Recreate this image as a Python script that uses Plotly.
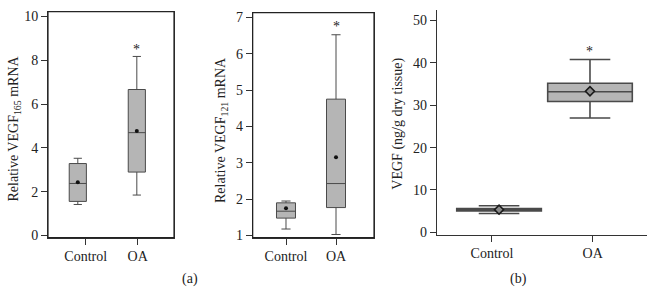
import plotly.graph_objects as go

# ---------------- data ----------------
groups = ["Control", "OA"]

# (a) left: Relative VEGF165 mRNA
v165_lower = [1.42, 1.85]
v165_q1 = [1.56, 2.90]
v165_median = [2.38, 4.70]
v165_q3 = [3.29, 6.67]
v165_upper = [3.53, 8.18]
v165_mean = [2.43, 4.78]

# (a) right: Relative VEGF121 mRNA
v121_lower = [1.18, 1.03]
v121_q1 = [1.48, 1.77]
v121_median = [1.67, 2.43]
v121_q3 = [1.90, 4.75]
v121_upper = [1.95, 6.52]
v121_mean = [1.75, 3.15]

# (b): VEGF protein (ng/g dry tissue)
prot_lower = [4.46, 27.0]
prot_q1 = [5.05, 30.9]
prot_median = [5.35, 33.2]
prot_q3 = [5.62, 35.2]
prot_upper = [6.29, 40.8]
prot_mean = [5.35, 33.3]

y165_ticks = [0, 2, 4, 6, 8, 10]
y121_ticks = [1, 2, 3, 4, 5, 6, 7]
yprot_ticks = [0, 10, 20, 30, 40, 50]

# ---------------- styling / layout helpers ----------------
W, H = 656, 299
FONT = "Liberation Serif"
BOX_FILL = "#b5b5b5"
BOX_LINE = "#4a4a4a"
AX = "#333333"
TXT = "#222222"


def px_x(p):
    return p / W


def px_y(p):
    return 1 - p / H


X1_RANGE = [0.275, 2.698]
Y1_RANGE = [-0.089, 10.222]
X2_RANGE = [0.334, 2.76]
Y2_RANGE = [0.9465, 7.126]
X3_RANGE = [0.451, 2.539]
Y3_RANGE = [-0.53, 52.46]

fig = go.Figure()

panels = [
    dict(xa="x", ya="y", lower=v165_lower, q1=v165_q1, med=v165_median, q3=v165_q3,
         upper=v165_upper, mean=v165_mean, shift=[-0.152, -0.017], width=0.33,
         lw=1.0, mstyle="dot", star=8.5),
    dict(xa="x2", ya="y2", lower=v121_lower, q1=v121_q1, med=v121_median, q3=v121_q3,
         upper=v121_upper, mean=v121_mean, shift=[0.0, 0.0], width=0.38,
         lw=1.0, mstyle="dot", star=6.74),
    dict(xa="x3", ya="y3", lower=prot_lower, q1=prot_q1, med=prot_median, q3=prot_q3,
         upper=prot_upper, mean=prot_mean, shift=[0.07, -0.027], width=0.84,
         lw=1.6, mstyle="big", star=42.8),
]

for p in panels:
    for i, g in enumerate(groups):
        pos = i + 1 + p["shift"][i]
        fig.add_trace(go.Box(
            x=[pos], q1=[p["q1"][i]], median=[p["med"][i]], q3=[p["q3"][i]],
            lowerfence=[p["lower"][i]], upperfence=[p["upper"][i]],
            width=p["width"], whiskerwidth=0.48,
            fillcolor=BOX_FILL, line=dict(color=BOX_LINE, width=p["lw"]),
            boxpoints=False, name=g, showlegend=False,
            xaxis=p["xa"], yaxis=p["ya"],
        ))
        if p["mstyle"] == "dot":
            marker = dict(symbol="circle", size=4, color="#111111")
        else:
            marker = dict(symbol="diamond", size=7, color="#8a8a8a",
                          line=dict(color="#1a1a1a", width=1.6))
        fig.add_trace(go.Scatter(
            x=[pos], y=[p["mean"][i]], mode="markers", marker=marker,
            showlegend=False, xaxis=p["xa"], yaxis=p["ya"],
        ))
    # asterisk above OA
    fig.add_annotation(
        x=2 + p["shift"][1], y=p["star"], xref=p["xa"], yref=p["ya"],
        text="*", showarrow=False, xanchor="center", yanchor="middle",
        font=dict(family=FONT, size=14, color=TXT),
    )

common_x = dict(tickvals=[1, 2], ticktext=groups, ticks="outside", ticklen=6,
                tickcolor=AX, showline=True, linecolor=AX, linewidth=1,
                showgrid=False, zeroline=False,
                tickfont=dict(family=FONT, size=14, color=TXT))
common_y = dict(ticks="outside", ticklen=6, tickcolor=AX, showline=True,
                linecolor=AX, linewidth=1, showgrid=False, zeroline=False,
                tickfont=dict(family=FONT, size=14, color=TXT))

fig.update_layout(
    width=W, height=H,
    margin=dict(l=0, r=0, t=0, b=0),
    plot_bgcolor="white",
    font=dict(family=FONT, color=TXT),
    xaxis=dict(domain=[px_x(48), px_x(174)], range=X1_RANGE, mirror=True,
               anchor="y", **common_x),
    yaxis=dict(domain=[px_y(242), px_y(10)], range=Y1_RANGE, mirror=True,
               tickvals=y165_ticks, anchor="x", **common_y),
    xaxis2=dict(domain=[px_x(252.7), px_x(374)], range=X2_RANGE, mirror=True,
                anchor="y2", **common_x),
    yaxis2=dict(domain=[px_y(242), px_y(11)], range=Y2_RANGE, mirror=True,
                tickvals=y121_ticks, anchor="x2", **common_y),
    xaxis3=dict(domain=[px_x(436.7), px_x(647)], range=X3_RANGE,
                anchor="y3", **common_x),
    yaxis3=dict(domain=[px_y(239), px_y(8.3)], range=Y3_RANGE,
                tickvals=yprot_ticks, anchor="x3", **common_y),
)

# frame rectangles of the two (a) panels
for (l, r, t, b) in [(48, 174, 10, 242), (252.7, 374, 11, 242)]:
    fig.add_shape(type="rect", xref="paper", yref="paper",
                  x0=px_x(l), x1=px_x(r), y0=px_y(b), y1=px_y(t),
                  line=dict(color="#222222", width=1.2))

annotations = [
    dict(text="Relative VEGF<sub>165</sub> mRNA", x=px_x(15), y=px_y(130)),
    dict(text="Relative VEGF<sub>121</sub> mRNA", x=px_x(221.5), y=px_y(132)),
    dict(text="VEGF (ng/g dry tissue)", x=px_x(398), y=px_y(125)),
]
for a in annotations:
    fig.add_annotation(xref="paper", yref="paper", textangle=-90, showarrow=False,
                       xanchor="center", yanchor="middle",
                       font=dict(family=FONT, size=14, color=TXT), **a)

for lbl, xp in [("(a)", 190), ("(b)", 518)]:
    fig.add_annotation(text=lbl, xref="paper", yref="paper", x=px_x(xp), y=px_y(285),
                       showarrow=False, xanchor="center", yanchor="middle",
                       font=dict(family=FONT, size=14, color=TXT))

fig.write_html("out.html", post_script="document.body.style.margin='0';",
               config={"displayModeBar": False})
